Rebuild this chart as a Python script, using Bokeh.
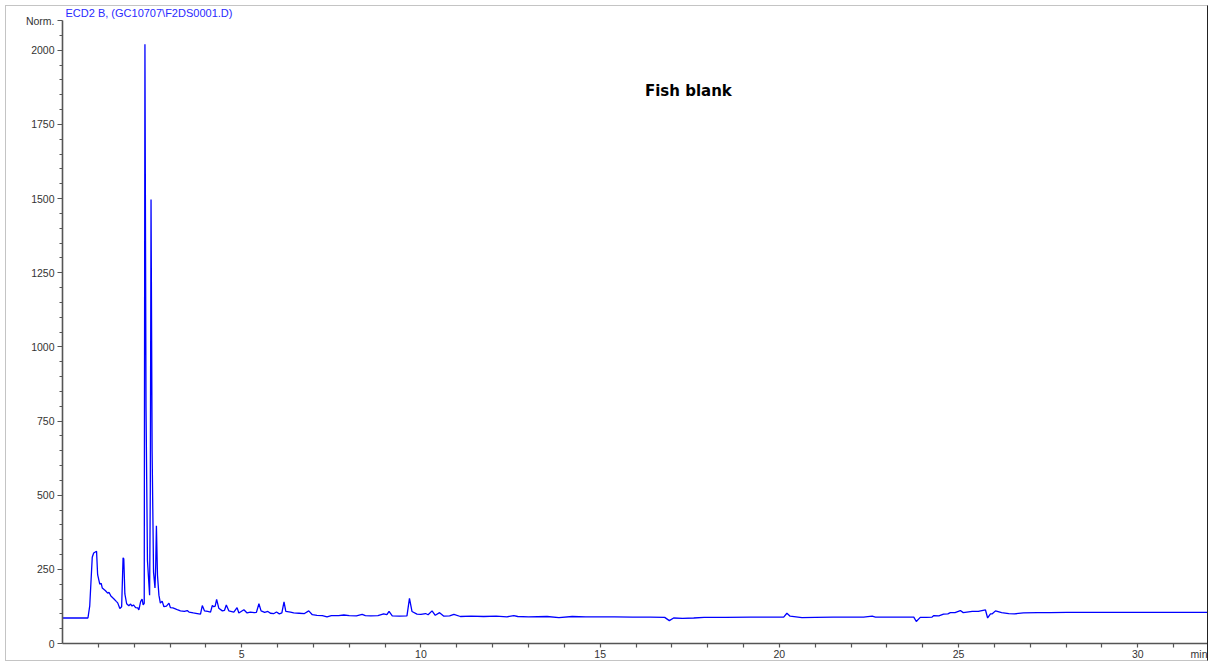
from bokeh.plotting import figure
from bokeh.models import Range1d, FixedTicker, Label
from bokeh.embed import file_html
from bokeh.resources import INLINE

# retention time (min)
time_min = [0.0, 0.71, 0.76, 0.83, 0.87, 0.95, 0.98, 1.04, 1.08, 1.11, 1.20, 1.26, 1.30, 1.35,
            1.43, 1.50, 1.54, 1.60, 1.65, 1.69, 1.71, 1.74, 1.79, 1.85, 1.90, 1.94, 1.98, 2.04,
            2.10, 2.13, 2.18, 2.22, 2.25, 2.28, 2.30, 2.33, 2.37, 2.43, 2.45, 2.47, 2.50, 2.54,
            2.58, 2.60, 2.62, 2.65, 2.69, 2.73, 2.78, 2.83, 2.90, 2.97, 3.01, 3.08, 3.15, 3.22,
            3.29, 3.40, 3.48, 3.53, 3.65, 3.76, 3.85, 3.90, 3.96, 4.05, 4.13, 4.18, 4.22, 4.26,
            4.30, 4.36, 4.46, 4.52, 4.57, 4.64, 4.78, 4.87, 4.92, 5.06, 5.15, 5.24, 5.35, 5.41,
            5.48, 5.54, 5.64, 5.73, 5.80, 5.90, 5.97, 6.05, 6.12, 6.18, 6.23, 6.36, 6.45, 6.60,
            6.75, 6.87, 6.97, 7.10, 7.25, 7.38, 7.50, 7.70, 7.85, 8.00, 8.20, 8.36, 8.45, 8.60,
            8.80, 8.96, 9.05, 9.11, 9.20, 9.40, 9.61, 9.68, 9.75, 9.89, 10.00, 10.13, 10.20,
            10.31, 10.40, 10.52, 10.64, 10.80, 10.92, 11.10, 11.40, 11.75, 12.10, 12.40, 12.59,
            12.70, 13.00, 13.52, 13.85, 14.22, 14.60, 14.90, 15.40, 15.90, 16.40, 16.80, 16.93,
            17.05, 17.30, 17.61, 17.90, 18.50, 19.20, 19.80, 20.12, 20.21, 20.30, 20.63, 21.00,
            21.50, 22.00, 22.35, 22.59, 22.68, 23.20, 23.75, 23.82, 23.93, 24.10, 24.26, 24.31,
            24.45, 24.58, 24.70, 24.77, 24.90, 25.05, 25.13, 25.38, 25.55, 25.75, 25.81, 25.89,
            25.94, 26.03, 26.20, 26.40, 26.56, 26.81, 27.20, 27.56, 28.02, 28.60, 29.20, 29.80,
            30.40, 31.00, 31.60, 32.00]

# detector response (Norm.)
signal = [86, 86, 127, 291, 305, 311, 232, 200, 203, 187, 178, 170, 172, 160,
          151, 142, 137, 118, 124, 289, 285, 167, 134, 127, 133, 126, 130, 121,
          120, 113, 141, 150, 130, 135, 2020, 800, 280, 163, 520, 1497, 650, 240,
          187, 260, 397, 230, 163, 136, 143, 124, 126, 136, 121, 120, 117, 113,
          110, 108, 111, 106, 103, 101, 99, 128, 110, 108, 106, 128, 124, 126,
          149, 119, 110, 112, 130, 110, 106, 121, 103, 114, 103, 106, 104, 105,
          134, 110, 105, 108, 102, 101, 106, 100, 103, 140, 108, 106, 103, 102,
          101, 110, 97, 95, 94, 90, 94, 94, 96, 94, 93, 98, 94, 93,
          94, 100, 97, 108, 93, 92, 93, 152, 108, 99, 98, 101, 97,
          110, 95, 104, 92, 93, 98, 91, 92, 91, 92, 90, 94,
          91, 90, 91, 87, 91, 90, 90, 90, 89, 89, 88, 77,
          86, 85, 86, 88, 88, 89, 89, 89, 102, 92, 87, 88,
          89, 89, 89, 92, 89, 89, 89, 74, 88, 88, 89, 94,
          93, 99, 100, 104, 104, 111, 104, 108, 108, 113, 86, 100,
          100, 110, 104, 101, 100, 103, 104, 104, 105, 105, 105, 105,
          105, 105, 105, 105]

x_label_ticks = [5, 10, 15, 20, 25, 30, 31.8]
x_tick_labels = {31.8: "min"}
x_tick_marks = list(range(1, 32))
y_major_ticks = [0, 250, 500, 750, 1000, 1250, 1500, 1750, 2000, 2100]
y_minor_ticks = list(range(50, 2100, 50))
y_tick_labels = {2100: "Norm."}

title_text = "ECD2 B,  (GC10707\\F2DS0001.D)"
note_text = "Fish blank"

FONT = "Liberation Sans"

p = figure(width=1203, height=656, output_backend="svg", toolbar_location=None,
           x_range=Range1d(0, 32), y_range=Range1d(0, 2100),
           min_border_left=56, min_border_right=0, min_border_top=14, min_border_bottom=12)
p.styles = {"margin-left": "5px", "margin-top": "5px",
            "border-top": "1px solid #c4c4c4", "border-left": "1px solid #c4c4c4",
            "border-bottom": "1px solid #c4c4c4", "border-right": "1px solid #222222"}
p.outline_line_color = None
p.background_fill_color = "white"
p.border_fill_color = "white"
p.grid.visible = False

p.title.text = title_text
p.title.text_font = FONT
p.title.text_font_size = "11px"
p.title.text_font_style = "normal"
p.title.text_color = "#2a2aff"
p.title.align = "left"
p.title.vertical_align = "top"
p.title.offset = 3
p.title.standoff = 0

p.line(time_min, signal, line_color="#0000ff", line_width=1.3)

for ax in (p.xaxis[0], p.yaxis[0]):
    ax.axis_line_color = "#555555"
    ax.axis_line_width = 1.6
    ax.major_tick_line_color = "#555555"
    ax.minor_tick_line_color = "#555555"
    ax.major_tick_line_width = 1.2
    ax.minor_tick_line_width = 1.2
    ax.major_tick_in = 0
    ax.minor_tick_in = 0
    ax.major_label_text_font = FONT
    ax.major_label_text_font_size = "10.5px"
    ax.major_label_text_color = "#333333"

# x: every tick mark drawn as a "minor" tick; labels sit at the "major" positions
p.xaxis[0].ticker = FixedTicker(ticks=x_label_ticks, minor_ticks=x_tick_marks)
p.xaxis[0].major_label_overrides = x_tick_labels
p.xaxis[0].major_tick_out = 0
p.xaxis[0].minor_tick_out = 4
p.xaxis[0].major_label_standoff = 0

p.yaxis[0].ticker = FixedTicker(ticks=y_major_ticks, minor_ticks=y_minor_ticks)
p.yaxis[0].major_label_overrides = y_tick_labels
p.yaxis[0].bounds = (0, 2100)
p.yaxis[0].major_tick_out = 5
p.yaxis[0].minor_tick_out = 3
p.yaxis[0].major_label_standoff = 3

p.add_layout(Label(x=16.25, y=1863, text=note_text, text_font="DejaVu Sans",
                   text_font_style="bold", text_font_size="15px", text_color="black",
                   text_baseline="middle"))

open("out.html", "w").write(file_html(p, INLINE))
